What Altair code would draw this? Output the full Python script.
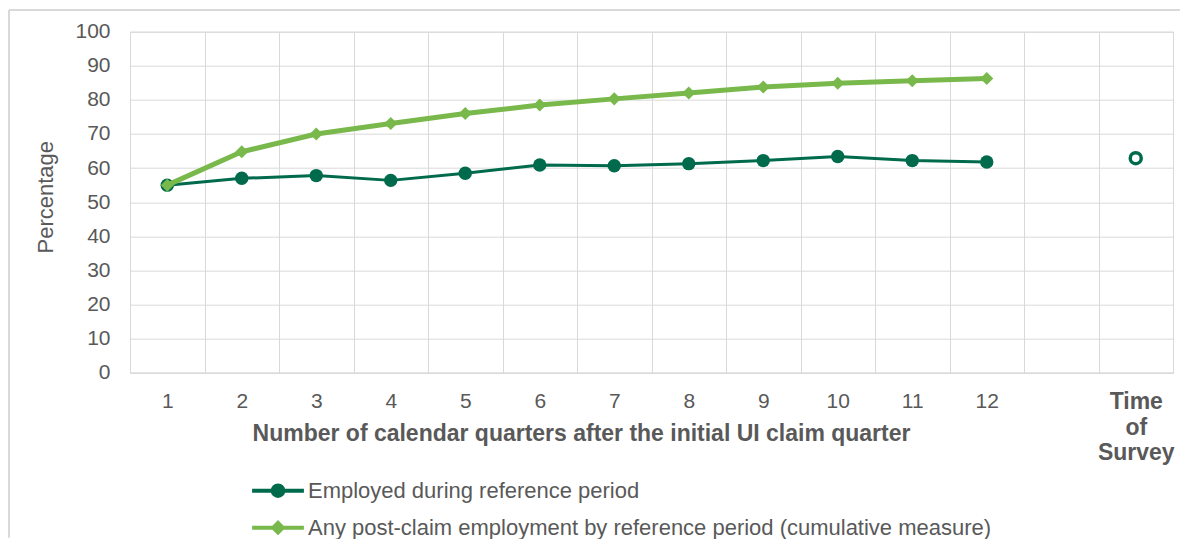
import json
import altair as alt
import pandas as pd

# ---- data ----
QUARTERS = list(range(1, 13))
EMPLOYED = [55.0, 57.0, 57.8, 56.4, 58.5, 60.9, 60.7, 61.3, 62.2, 63.4, 62.2, 61.8]
CUMULATIVE = [55.0, 64.8, 70.0, 73.1, 76.0, 78.5, 80.3, 82.0, 83.8, 84.9, 85.6, 86.3]
SURVEY_POS = [14]
SURVEY_VAL = [62.9]
SERIES = [
    "Employed during reference period",
    "Any post-claim employment by reference period (cumulative measure)",
]
X_LABELS = [str(q) for q in QUARTERS] + ["", ["Time", "of", "Survey"], ""]
Y_TICKS = list(range(0, 101, 10))
X_TITLE = "Number of calendar quarters after the initial UI claim quarter"
Y_TITLE = "Percentage"

# ---- styles ----
DARK = "#006A4C"
LIGHT = "#79B84B"
GRID = "#D9D9D9"
TEXT = "#595959"
FONT = "Liberation Sans"

df = pd.DataFrame({
    "quarter": QUARTERS * 2,
    "value": EMPLOYED + CUMULATIVE,
    "series": [SERIES[0]] * len(QUARTERS) + [SERIES[1]] * len(QUARTERS),
})
survey = pd.DataFrame({"quarter": SURVEY_POS, "value": SURVEY_VAL})

W, H = 1043, 341
band = W / 14

x_axis = alt.Axis(
    values=[i + 0.5 for i in range(15)],
    labelExpr=json.dumps(X_LABELS) + "[round(datum.value - 0.5)]",
    labelOffset=band / 2,
    labelFontSize=alt.condition("datum.value == 13.5", alt.value(23), alt.value(21)),
    labelFontWeight=alt.condition("datum.value == 13.5", alt.value("bold"), alt.value("normal")),
    labelLineHeight=25.5,
    labelColor=TEXT,
    labelPadding=18,
    labelOverlap=False,
    labelFlush=False,
    grid=True,
    gridColor=GRID,
    ticks=False,
    domainColor=GRID,
    title=X_TITLE,
    titleFontSize=23,
    titleFontWeight="bold",
    titleColor=TEXT,
    titleX=451,
    titleY=60.6,
    titleAlign="center",
    titleBaseline="middle",
)
y_axis = alt.Axis(
    values=Y_TICKS,
    grid=True,
    gridColor=GRID,
    domain=False,
    ticks=False,
    labelFontSize=21,
    labelColor=TEXT,
    labelPadding=20,
    title=Y_TITLE,
    titleFontSize=22,
    titleFontWeight="normal",
    titleColor=TEXT,
    titleX=-85,
    titleY=165,
    titleAngle=270,
    titleAlign="center",
    titleBaseline="middle",
)

x_enc = alt.X("quarter:Q", scale=alt.Scale(domain=[0.5, 14.5], nice=False, zero=False), axis=x_axis)
y_enc = alt.Y("value:Q", scale=alt.Scale(domain=[0, 100], nice=False, zero=True), axis=y_axis)

base = alt.Chart(df).encode(x=x_enc, y=y_enc)
emp = base.transform_filter(alt.datum.series == SERIES[0])
cum = base.transform_filter(alt.datum.series == SERIES[1])

emp_line = emp.mark_line(color=DARK, strokeWidth=3, strokeJoin="round", strokeCap="round")
emp_pts = emp.mark_point(shape="circle", filled=True, size=180, color=DARK, opacity=1)
cum_line = cum.mark_line(color=LIGHT, strokeWidth=5, strokeJoin="round", strokeCap="round")
cum_pts = cum.mark_point(shape="diamond", filled=True, size=170, color=LIGHT, opacity=1)

survey_pt = alt.Chart(survey).mark_point(
    shape="circle", filled=False, size=121, strokeWidth=3.5, color=DARK, opacity=1
).encode(x=x_enc, y=y_enc)

# legend symbols: line with marker (custom paths, unit = sqrt(size)/2 px)
PATH_CIRCLE = "M-3.7,0L3.7,0M-0.75,0A0.75,0.75,0,1,0,0.75,0A0.75,0.75,0,1,0,-0.75,0Z"
PATH_DIAMOND = "M-3.7,0L3.7,0M0,-0.68L0.68,0L0,0.68L-0.68,0Z"

leg = alt.Legend(
    orient="none",
    legendX=137,
    legendY=448,
    direction="vertical",
    title=None,
    padding=0,
    labelFont=FONT,
    labelFontSize=22,
    labelColor=TEXT,
    labelLimit=1000,
    labelOffset=19,
    rowPadding=10,
    symbolSize=196,
    symbolStrokeWidth=4,
    symbolOpacity=1,
)

legend_layer = base.transform_filter("false").mark_point(filled=True, opacity=1, size=196).encode(
    fill=alt.Fill("series:N", scale=alt.Scale(domain=SERIES, range=[DARK, LIGHT]), legend=leg),
    stroke=alt.Stroke("series:N", scale=alt.Scale(domain=SERIES, range=[DARK, LIGHT]), legend=leg),
    shape=alt.Shape("series:N", scale=alt.Scale(domain=SERIES, range=[PATH_CIRCLE, PATH_DIAMOND]), legend=leg),
)

# outer chart-area frame (only its top and left edges fall inside the picture)
one = pd.DataFrame({"f": [0]})
frame_top = alt.Chart(one).mark_rule(stroke=GRID, strokeWidth=2).encode(
    x=alt.value(-121), x2=alt.value(W + 7), y=alt.value(-21.7)
)
frame_left = alt.Chart(one).mark_rule(stroke=GRID, strokeWidth=2).encode(
    x=alt.value(-121), y=alt.value(-21.7), y2=alt.value(H + 165)
)

chart = alt.layer(
    frame_top, frame_left, emp_line, emp_pts, cum_line, cum_pts, survey_pt, legend_layer
).properties(
    width=W,
    height=H,
    autosize=alt.AutoSizeParams(type="none"),
    padding={"left": 122, "top": 23.7, "right": 8, "bottom": 166},
).configure(font=FONT).configure_view(stroke=GRID)

chart.save("out.html", embed_options={"renderer": "svg", "actions": False})
